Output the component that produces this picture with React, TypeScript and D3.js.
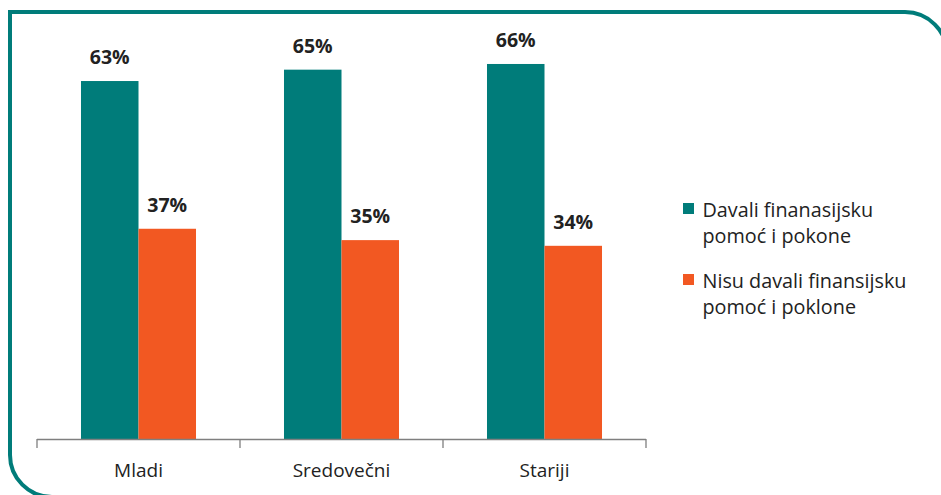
import React from "react";
import * as d3 from "d3";

const categories = ["Mladi", "Sredovečni", "Stariji"];
const seriesNames = ["Davali finanasijsku pomoć i pokone", "Nisu davali finansijsku pomoć i poklone"];
const gave = [63, 65, 66];
const didNotGive = [37, 35, 34];
const legendLines = [
  ["Davali finanasijsku", "pomoć i pokone"],
  ["Nisu davali finansijsku", "pomoć i poklone"],
];

const W = 941;
const H = 495;
const TEAL = "#007C7A";
const ORANGE = "#F25822";
const FONT = "'Open Sans', 'DejaVu Sans', sans-serif";

export default function App() {
  const x = d3.scaleBand<string>().domain(categories).range([37, 646]).paddingInner(0).paddingOuter(0);
  const inner = d3.scaleBand<string>().domain(["a", "b"]).range([0, x.bandwidth()]).paddingInner(0).paddingOuter(0.765);
  const y = d3.scaleLinear().domain([0, 75.5]).range([439, 10]);
  const series = [gave, didNotGive];
  const colors = [TEAL, ORANGE];
  const keys = ["a", "b"];

  const L = 10, T = 12, R = 947, B = 497, r = 42;
  const frame = `M${L},${T} L${R - r},${T} A${r},${r} 0 0 1 ${R},${T + r} L${R},${B} L${L + r},${B} A${r},${r} 0 0 1 ${L},${B - r} Z`;

  return (
    <svg width={W} height={H} style={{ position: "absolute", left: 0, top: 0, background: "#fff" }} fontFamily={FONT}>
      <path d={frame} fill="#fff" stroke={TEAL} strokeWidth={4} />
      {categories.map((c, i) => (
        <g key={c} transform={`translate(${x(c)},0)`}>
          {series.map((s, j) => {
            const bx = inner(keys[j])!;
            const bw = inner.bandwidth();
            return (
              <g key={j}>
                <rect x={bx} y={y(s[i])} width={bw} height={y(0) - y(s[i])} fill={colors[j]} />
                <text x={bx + bw / 2} y={y(s[i]) - 17} textAnchor="middle" fontSize={19.5} fontWeight="bold" fill="#222">
                  {s[i]}%
                </text>
              </g>
            );
          })}
          <text x={x.bandwidth() / 2} y={477} textAnchor="middle" fontSize={19} fill="#222">{c}</text>
        </g>
      ))}
      <line x1={37} x2={646} y1={439.5} y2={439.5} stroke="#7f7f7f" strokeWidth={1.3} />
      {[...categories.map((c) => x(c)!), 646].map((tx, i) => (
        <line key={i} x1={tx} x2={tx} y1={439} y2={448} stroke="#7f7f7f" strokeWidth={1.3} />
      ))}
      {seriesNames.map((n, j) => (
        <g key={n} transform={`translate(683,${203 + j * 71})`}>
          <rect x={0} y={0} width={11} height={11} fill={colors[j]} />
          {legendLines[j].map((ln, k) => (
            <text key={k} x={19.5} y={13.5 + k * 26} fontSize={19.8} fill="#222">{ln}</text>
          ))}
        </g>
      ))}
    </svg>
  );
}
